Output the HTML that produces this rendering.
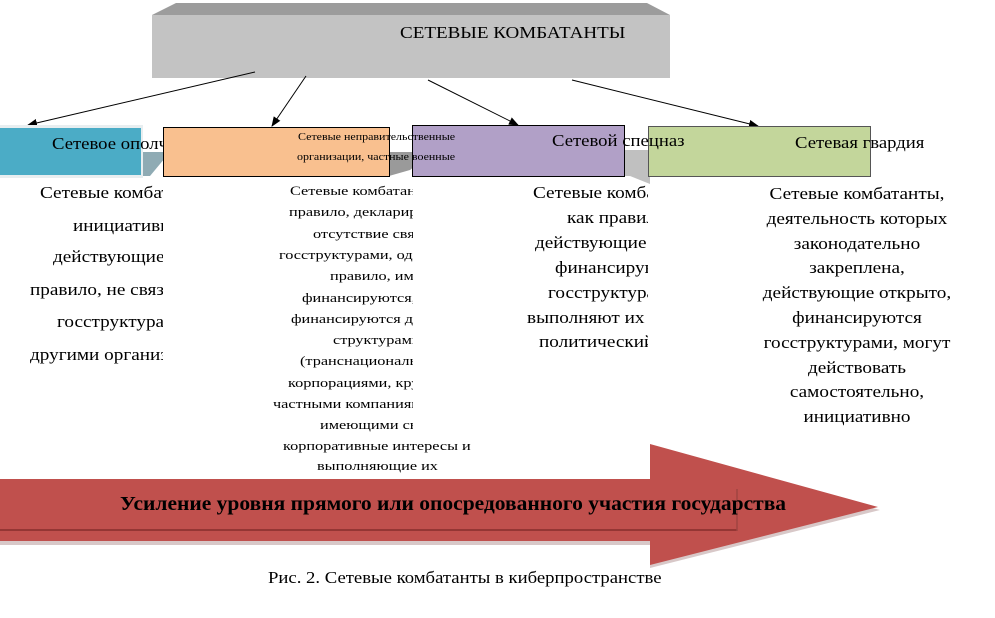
<!DOCTYPE html>
<html><head><meta charset="utf-8"><style>
body{margin:0;width:995px;height:618px;background:#fff;position:relative;overflow:hidden;font-family:"Liberation Serif",serif;color:#000}
.a{position:absolute;white-space:nowrap;transform-origin:0 50%}
.clip{position:absolute;overflow:hidden}
.l16{font-size:17px;line-height:18px;transform:scaleX(1.13)}
.l13{font-size:13px;line-height:14px;transform:scaleX(1.25)}
</style></head><body>
<svg width="995" height="618" style="position:absolute;left:0;top:0">
<defs><marker id="m" markerWidth="10" markerHeight="8" refX="9" refY="4" orient="auto" markerUnits="userSpaceOnUse"><path d="M0,0 L10,4 L0,8z" fill="#000"/></marker></defs>
<polygon points="176,3 647,3 670,15 152,15" fill="#9c9c9c"/>
<rect x="152" y="15" width="518" height="63" fill="#c3c3c3"/>
<line x1="255" y1="72" x2="28" y2="125" stroke="#000" marker-end="url(#m)"/>
<line x1="306" y1="76" x2="272" y2="126" stroke="#000" marker-end="url(#m)"/>
<line x1="428" y1="80" x2="518" y2="125" stroke="#000" marker-end="url(#m)"/>
<line x1="572" y1="80" x2="758" y2="126" stroke="#000" marker-end="url(#m)"/>
<polygon points="141,152 170,152 150,176 141,176" fill="#8fabb4"/>
<polygon points="389,152 432,152 410,170 389,176" fill="#9a9a9a"/>
<polygon points="624,150 650,150 650,184 630,176 624,176" fill="#c0c0c0"/>
<rect x="0" y="125" width="143" height="53" fill="#e8eef0"/>
<rect x="0" y="128" width="141" height="47" fill="#4bacc6"/>
<rect x="163.5" y="127.5" width="226" height="49" fill="#f9c08f" stroke="#000"/>
<rect x="412.5" y="125.5" width="212" height="51" fill="#b1a0c7" stroke="#000"/>
<rect x="648.5" y="126.5" width="222" height="50" fill="#c3d69b" stroke="#555"/>
<polygon points="0,482 650,482 650,447 880,510 650,568 650,545 0,545" fill="#d8c8c8"/>
<polygon points="0,479 650,479 650,444 878,507 650,565 650,541 0,541" fill="#c0504d"/>
<rect x="0" y="489" width="737" height="41" fill="#c0504d"/>
<line x1="0" y1="530" x2="737" y2="530" stroke="#943634" stroke-width="2"/>
<line x1="737" y1="489" x2="737" y2="531" stroke="#a04442" stroke-width="1.5"/>
</svg>
<div class="a" style="left:400px;top:23px;font-size:17px;transform:scaleX(1.12)">СЕТЕВЫЕ КОМБАТАНТЫ</div>
<div class="clip" style="left:0;top:130px;width:163px;height:30px"><div class="a" style="left:52px;top:4px;font-size:17px;transform:scaleX(1.1)">Сетевое ополчение</div></div>
<div class="a" style="left:298px;top:132px;font-size:10.5px;transform:scaleX(1.14)">Сетевые неправительственные</div>
<div class="a" style="left:297px;top:152px;font-size:10.5px;transform:scaleX(1.14)">организации, частные военные</div>
<div class="a" style="left:552px;top:131px;font-size:17px;transform:scaleX(1.1)">Сетевой спецназ</div>
<div class="a" style="left:795px;top:133px;font-size:17px;transform:scaleX(1.1)">Сетевая гвардия</div>

<div class="clip" style="left:0;top:180px;width:163px;height:190px">
<div class="a l16" style="left:40px;top:4px">Сетевые комбатанты,</div>
<div class="a l16" style="left:73px;top:37px">инициативно</div>
<div class="a l16" style="left:53px;top:68px">действующие и, как</div>
<div class="a l16" style="left:30px;top:101px">правило, не связанные с</div>
<div class="a l16" style="left:57px;top:133px">госструктурами и</div>
<div class="a l16" style="left:30px;top:166px">другими организациями</div>
</div>

<div class="clip" style="left:260px;top:182px;width:153px;height:260px">
<div class="a l13" style="left:30px;top:2px">Сетевые комбатанты, как</div>
<div class="a l13" style="left:29px;top:23px">правило, декларирующие</div>
<div class="a l13" style="left:53px;top:45px">отсутствие связи с</div>
<div class="a l13" style="left:19px;top:66px">госструктурами, однако, как</div>
<div class="a l13" style="left:70px;top:87px">правило, имеющие</div>
<div class="a l13" style="left:42px;top:109px">финансируются, или</div>
<div class="a l13" style="left:31px;top:130px">финансируются другими</div>
<div class="a l13" style="left:73px;top:151px">структурами</div>
<div class="a l13" style="left:40px;top:172px">(транснациональными</div>
<div class="a l13" style="left:28px;top:194px">корпорациями, крупными</div>
<div class="a l13" style="left:13px;top:215px">частными компаниями),</div>
<div class="a l13" style="left:60px;top:236px">имеющими свои</div>
</div>
<div class="a l13" style="left:283px;top:439px">корпоративные интересы и</div>
<div class="a l13" style="left:317px;top:459px">выполняющие их</div>

<div class="clip" style="left:500px;top:182px;width:148px;height:180px">
<div class="a l16" style="left:33px;top:2px">Сетевые комбатанты,</div>
<div class="a l16" style="left:67px;top:27px">как правило, не</div>
<div class="a l16" style="left:35px;top:52px">действующие открыто,</div>
<div class="a l16" style="left:55px;top:77px">финансируются</div>
<div class="a l16" style="left:48px;top:102px">госструктурами и</div>
<div class="a l16" style="left:27px;top:127px">выполняют их военно-</div>
<div class="a l16" style="left:39px;top:151px">политический заказ</div>
</div>

<div class="a" style="left:737px;top:182px;width:240px;text-align:center;font-size:17px;line-height:24.8px;white-space:normal;transform:scaleX(1.13);transform-origin:50% 0">Сетевые комбатанты,<br>деятельность которых<br>законодательно<br>закреплена,<br>действующие открыто,<br>финансируются<br>госструктурами, могут<br>действовать<br>самостоятельно,<br>инициативно</div>

<div class="a" style="left:120px;top:493px;font-size:20px;font-weight:bold;transform:scaleX(1.075)">Усиление уровня прямого или опосредованного участия государства</div>
<div class="a" style="left:268px;top:568px;font-size:17px;transform:scaleX(1.1)">Рис. 2. Сетевые комбатанты в киберпространстве</div>
</body></html>
